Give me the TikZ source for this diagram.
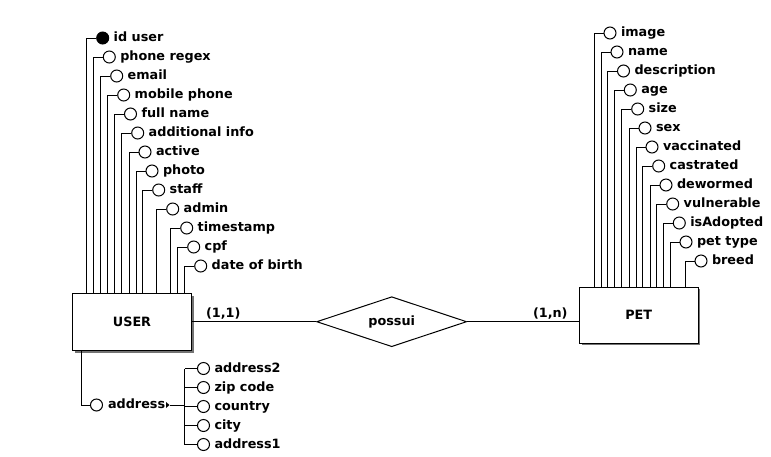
\documentclass[tikz,border=0pt]{standalone}
\usepackage{fontspec}
\setmainfont{DejaVu Sans}
\usetikzlibrary{shapes.geometric,shadows}
\begin{document}
\begin{tikzpicture}[x=1pt,y=-1pt,line width=1pt,
  every node/.style={font=\fontsize{12.8}{15}\selectfont\bfseries,inner sep=0pt},
  attr/.style={circle,draw,minimum size=12pt,fill=white},
  keyattr/.style={attr,fill=black},
  lbl/.style={anchor=base west},
  entity/.style={rectangle,draw,fill=white,drop shadow={shadow xshift=2pt,shadow yshift=-2pt,fill=black!55,opacity=1}},
  rel/.style={diamond,draw,fill=white,aspect=3,minimum width=150pt,minimum height=50pt}]
\useasboundingbox (0,0) rectangle (771,456);

% entities and relationship
\node[entity,minimum width=119pt,minimum height=57pt] (user) at (132,322) {USER};
\node[entity,minimum width=118.5pt,minimum height=56pt] (pet) at (638.75,315) {PET};
\node[rel] (possui) at (391.7,321.7) {possui};
\draw (possui.west) -- (possui.west -| user.east);
\draw (possui.east) -- (possui.east -| pet.west);
\node[lbl] (c11) at (205.5,317) {(1,1)};
\node[lbl] (c1n) at (532.5,317) {(1,n)};

% USER attributes
\node[keyattr] (u0) at (102.7,38) {};
\node[lbl] (u0-l) at (113.2,41.6) {id user};
\coordinate (u0-b) at (86.7,293.5);
\draw (u0.west) -| (u0-b);
\foreach \n/\lx/\yy/\t in {u1/93.3/57/phone regex, u2/100.7/76/email, u3/107.7/95/mobile phone,
  u4/114.5/114/full name, u5/121.7/133/additional info, u6/129/152/active, u7/136/171/photo,
  u8/142.7/190/staff, u9/156.7/209/admin, u10/170.7/228/timestamp, u11/177.7/247/cpf,
  u12/184.7/266/date of birth}{
  \node[attr] (\n) at (\lx+16,\yy) {};
  \node[lbl] (\n-l) at (\lx+26.5,\yy+3.6) {\t};
  \coordinate (\n-b) at (\lx,293.5);
  \draw (\n.west) -| (\n-b);
}

% PET attributes
\foreach \n/\lx/\yy/\t in {p0/594/33/image, p1/601/52/name, p2/607.5/71/description, p3/614.3/90/age,
  p4/621.7/109/size, p5/629/128/sex, p6/636/147/vaccinated, p7/642.7/166/castrated,
  p8/650/185/dewormed, p9/656.7/204/vulnerable, p10/663.3/223/isAdopted, p11/670/242/pet type,
  p12/685/261/breed}{
  \node[attr] (\n) at (\lx+16,\yy) {};
  \node[lbl] (\n-l) at (\lx+26.5,\yy+3.6) {\t};
  \coordinate (\n-b) at (\lx,287);
  \draw (\n.west) -| (\n-b);
}

% composite attribute address
\coordinate (ad-top) at (81.5,350.5);
\node[attr] (addr) at (96.5,405) {};
\draw (ad-top) |- (addr.west);
\node[lbl] (addr-l) at (107.5,408.6) {address};
\fill (166,402) -- (169.5,405) -- (166,408) -- cycle;
\coordinate (ad-tip) at (169.5,405);
\coordinate (bus) at (184.5,405);
\draw (ad-tip) -- (bus);
\foreach \n/\yy/\t in {a0/368.5/address2, a1/387.5/zip code, a2/406.5/country, a3/425.5/city, a4/444.5/address1}{
  \node[attr] (\n) at (203.5,\yy) {};
  \node[lbl] (\n-l) at (214,\yy+3.6) {\t};
  \draw (\n.west) -- (\n.west -| bus);
}
\draw (a0.west -| bus) -- (a4.west -| bus);
\end{tikzpicture}
\end{document}
